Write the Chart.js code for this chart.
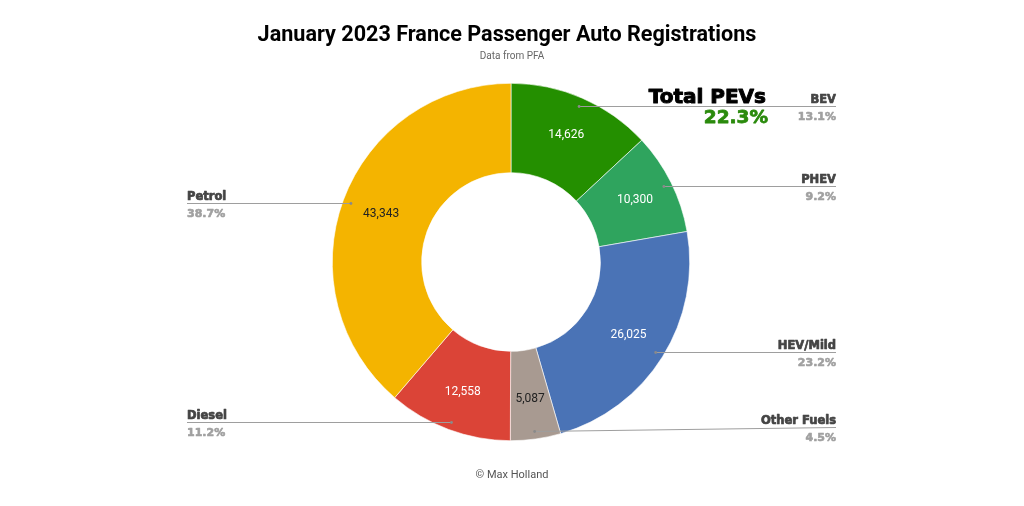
<!DOCTYPE html>
<html>
<head>
<meta charset="utf-8">
<script src="https://cdn.jsdelivr.net/npm/chart.js@4.4.0/dist/chart.umd.min.js"></script>
<style>
html,body{margin:0;padding:0;background:#fff;}
#wrap{width:1024px;height:506px;position:relative;}
</style>
</head>
<body>
<div id="wrap"><canvas id="c" width="1024" height="506"></canvas></div>
<script>
const categories = ["BEV", "PHEV", "HEV/Mild", "Other Fuels", "Diesel", "Petrol"];
const registrations = [14626, 10300, 26025, 5087, 12558, 43343];
const percentLabels = ["13.1%", "9.2%", "23.2%", "4.5%", "11.2%", "38.7%"];
const totalPevLabel = "22.3%";

const sliceColors = ["#248f00", "#2fa45e", "#4a73b6", "#a89a91", "#db4437", "#f4b400"];
const valueTextColors = ["#ffffff", "#ffffff", "#ffffff", "#222222", "#ffffff", "#222222"];

function heavyText(ctx, text, x, y, color, w) {
  ctx.fillStyle = color;
  ctx.strokeStyle = color;
  ctx.lineWidth = w;
  ctx.lineJoin = 'round';
  ctx.strokeText(text, x, y);
  ctx.fillText(text, x, y);
}

const labelPlugin = {
  id: 'leaderLabels',
  afterDatasetsDraw(chart) {
    const ctx = chart.ctx;
    const meta = chart.getDatasetMeta(0);
    const cx = meta.data[0].x;
    const cy = meta.data[0].y;
    ctx.save();
    meta.data.forEach((arc, i) => {
      const p = arc.getProps(['x','y','startAngle','endAngle','innerRadius','outerRadius'], true);
      const mid = (p.startAngle + p.endAngle) / 2;
      // value label
      const rv = p.innerRadius + (p.outerRadius - p.innerRadius) * 0.55;
      const vx = p.x + Math.cos(mid) * rv;
      const vy = p.y + Math.sin(mid) * rv;
      ctx.font = '12px Roboto';
      ctx.fillStyle = valueTextColors[i];
      ctx.textAlign = 'center';
      ctx.textBaseline = 'middle';
      ctx.fillText(registrations[i].toLocaleString('en-US'), vx, vy);
      // leader dot and line
      const rd = p.outerRadius * 0.955;
      const dx = p.x + Math.cos(mid) * rd;
      const dy = Math.round(p.y + Math.sin(mid) * rd) + 0.5;
      const right = Math.cos(mid) >= 0;
      const ex = right ? cx + 325 : cx - 324;
      // keep label block inside the lower limit
      const ly = Math.min(dy, Math.round(cy + 165) + 0.5);
      ctx.strokeStyle = '#9e9e9e';
      ctx.lineWidth = 1;
      ctx.beginPath();
      ctx.moveTo(dx, dy);
      ctx.lineTo(ex, ly);
      ctx.stroke();
      ctx.fillStyle = '#8a8a8a';
      ctx.beginPath();
      ctx.arc(dx, dy, 1.4, 0, Math.PI * 2);
      ctx.fill();
      // label texts
      ctx.textAlign = right ? 'right' : 'left';
      ctx.textBaseline = 'alphabetic';
      ctx.font = 'bold 11.5px "DejaVu Sans"';
      heavyText(ctx, categories[i], ex, ly - 3.5, '#444444', 0.7);
      ctx.font = 'bold 11px "DejaVu Sans"';
      heavyText(ctx, percentLabels[i], ex, ly + 13, '#a0a0a0', 0.6);
    });
    // Total PEVs annotation
    ctx.textAlign = 'right';
    ctx.textBaseline = 'alphabetic';
    ctx.font = 'bold 20px "DejaVu Sans"';
    heavyText(ctx, 'Total PEVs', cx + 255, 103, '#000000', 1.0);
    ctx.font = 'bold 18.5px "DejaVu Sans"';
    heavyText(ctx, totalPevLabel, cx + 257, 123, '#2a8a0c', 0.8);
    ctx.restore();
  },
  afterDraw(chart) {
    const ctx = chart.ctx;
    ctx.save();
    ctx.textAlign = 'center';
    ctx.textBaseline = 'alphabetic';
    ctx.fillStyle = '#000000';
    ctx.font = 'bold 21.6px Roboto';
    ctx.fillText('January 2023 France Passenger Auto Registrations', 507, 41);
    ctx.fillStyle = '#666666';
    ctx.font = '10px Roboto';
    ctx.fillText('Data from PFA', 512, 59);
    ctx.fillStyle = '#555555';
    ctx.font = '11px Roboto';
    ctx.fillText('\u00A9 Max Holland', 512, 478);
    ctx.restore();
  }
};

new Chart(document.getElementById('c'), {
  type: 'doughnut',
  data: {
    labels: categories,
    datasets: [{
      data: registrations,
      backgroundColor: sliceColors,
      borderColor: '#ffffff',
      borderWidth: 0.6
    }]
  },
  options: {
    responsive: false,
    animation: false,
    cutout: '50%',
    layout: { padding: { top: 83, bottom: 65, left: 0, right: 2 } },
    plugins: {
      legend: { display: false },
      tooltip: { enabled: false },
      title: { display: false }
    }
  },
  plugins: [labelPlugin]
});
</script>
</body>
</html>
